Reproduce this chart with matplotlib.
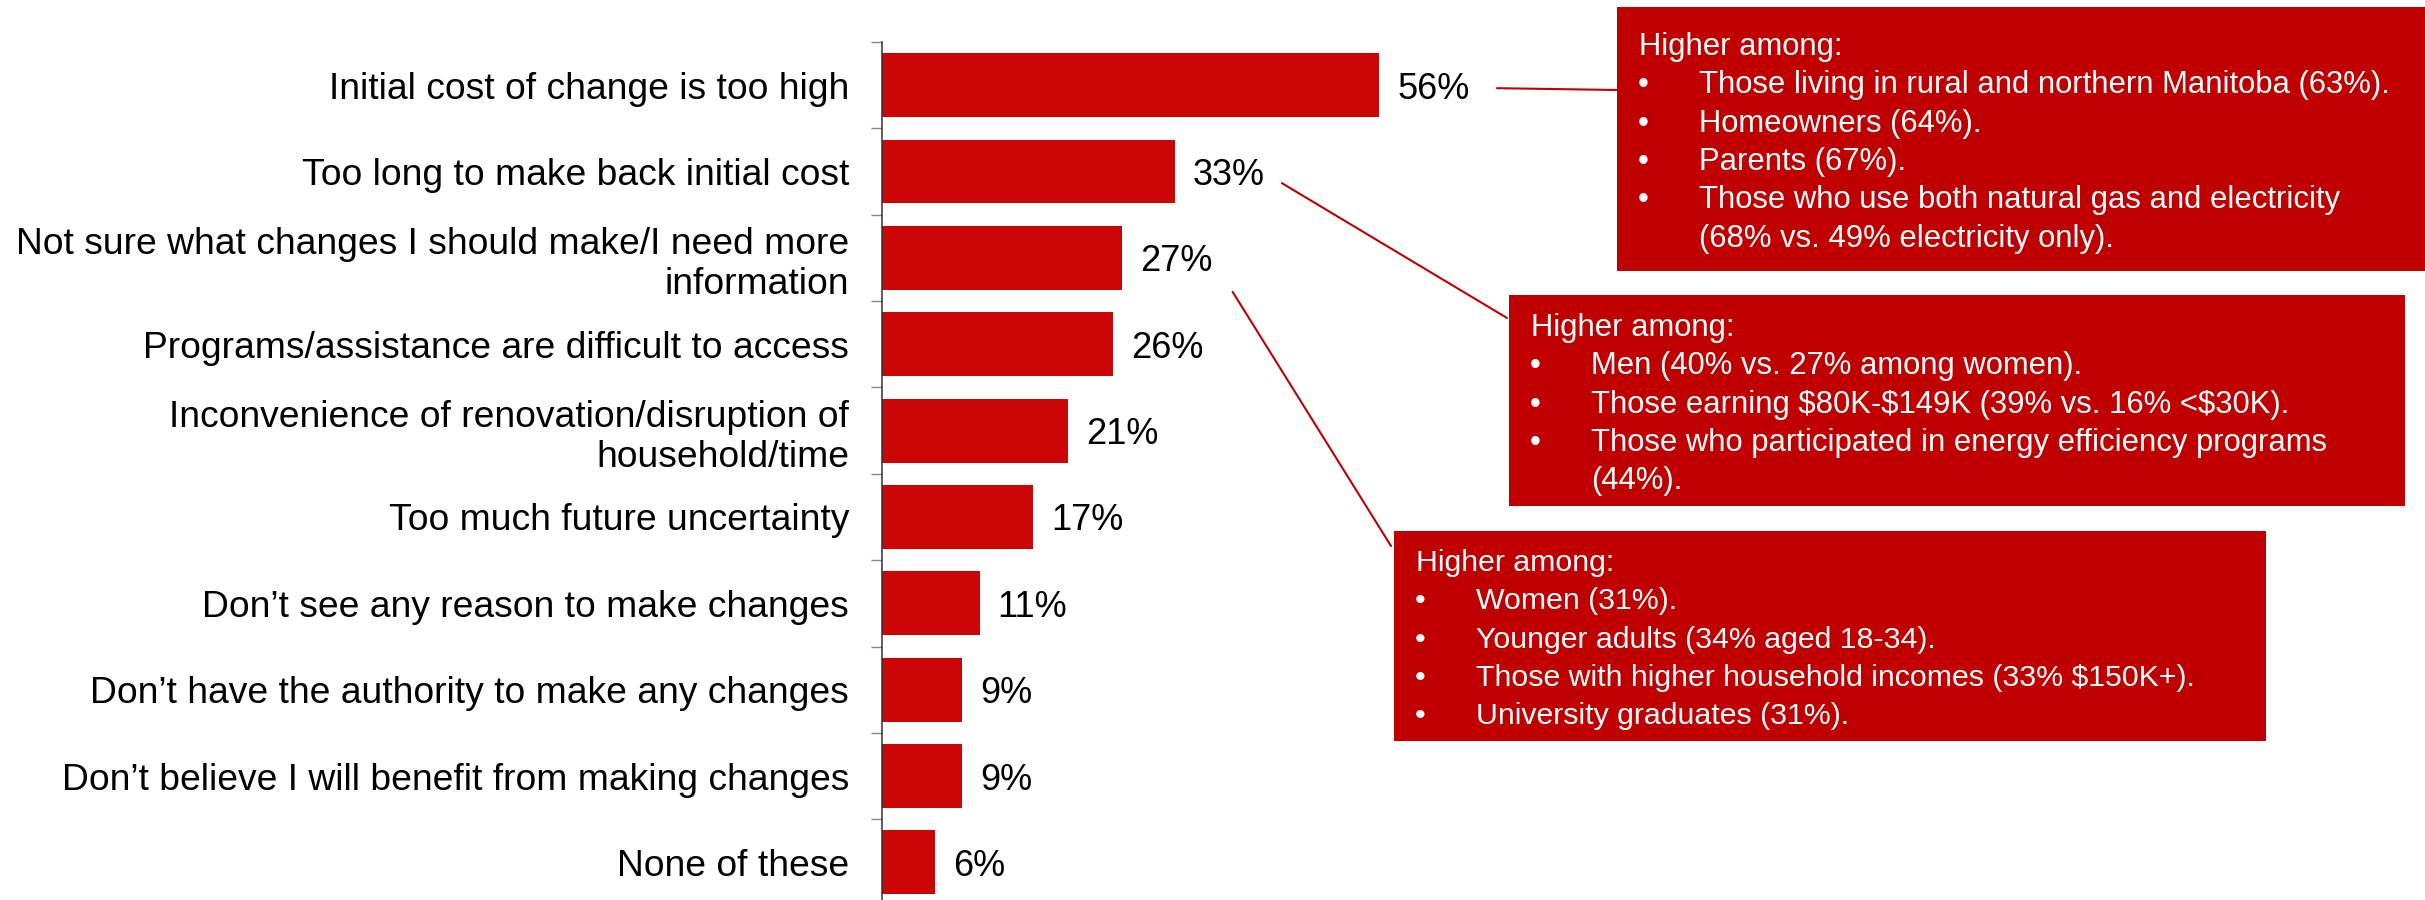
import matplotlib.pyplot as plt
from matplotlib.patches import Rectangle, ConnectionPatch
from matplotlib.transforms import offset_copy

plt.rcParams['font.family'] = ['Liberation Sans', 'DejaVu Sans']

categories = [
    "Initial cost of change is too high",
    "Too long to make back initial cost",
    "Not sure what changes I should make/I need more\ninformation",
    "Programs/assistance are difficult to access",
    "Inconvenience of renovation/disruption of\nhousehold/time",
    "Too much future uncertainty",
    "Don\u2019t see any reason to make changes",
    "Don\u2019t have the authority to make any changes",
    "Don\u2019t believe I will benefit from making changes",
    "None of these",
]
values = [56, 33, 27, 26, 21, 17, 11, 9, 9, 6]

header = "Higher among:"
cost_notes = [
    "Those living in rural and northern Manitoba (63%).",
    "Homeowners (64%).",
    "Parents (67%).",
    "Those who use both natural gas and electricity\n(68% vs. 49% electricity only).",
]
payback_notes = [
    "Men (40% vs. 27% among women).",
    "Those earning $80K-$149K (39% vs. 16% <$30K).",
    "Those who participated in energy efficiency programs\n(44%).",
]
unsure_notes = [
    "Women (31%).",
    "Younger adults (34% aged 18-34).",
    "Those with higher household incomes (33% $150K+).",
    "University graduates (31%).",
]

BAR = "#CC0606"
BOX = "#C00000"
W, H = 2425, 900

fig = plt.figure(figsize=(W / 100, H / 100), dpi=100)


def px(x, y):
    # pixel position (from top-left) -> figure fraction
    return x / W, 1 - y / H


ax = fig.add_axes([882 / W, 1 - 905.6 / H, 532.5 / W, 863.6 / H])
ypos = list(range(len(categories)))
bars = ax.barh(ypos, values, height=0.74, color=BAR)
ax.set_xlim(0, 60)
ax.set_ylim(9.5, -0.5)
for t in ax.bar_label(bars, labels=[f"{v}%" for v in values], padding=13,
                      fontsize=26):
    t.set_va('center_baseline')

ax.set_yticks(ypos)
ax.set_yticklabels(categories, fontsize=26.8, linespacing=1.2)
ax.tick_params(axis='y', which='major', length=0, pad=23.8)
ax.set_yticks([i - 0.5 for i in range(len(categories) + 1)], minor=True)
ax.tick_params(axis='y', which='minor', length=7.9, width=1, color='#888888')
ax.xaxis.set_visible(False)
for side in ['top', 'right', 'bottom']:
    ax.spines[side].set_visible(False)
ax.spines['left'].set_color('#333333')
ax.spines['left'].set_linewidth(1.1)

# callout boxes: (left, top, right, bottom, first baseline) in pixels, font size
callouts = [
    ((1617, 7, 2425, 271, 55), 22.3, cost_notes, 0, (118, -3), (1617, 90)),
    ((1509, 295, 2405, 506, 336), 22.3, payback_notes, 1, (107, -11.6), (1507, 318)),
    ((1394, 531, 2266, 741, 571), 21.8, unsure_notes, 2, (111, -34), (1391, 546)),
]
step = 38.3

for (l, t, r, b, base), fs, notes, idx, (dx, dy), end in callouts:
    x0, y0 = px(l, b)
    fig.add_artist(Rectangle((x0, y0), (r - l) / W, (b - t) / H,
                             transform=fig.transFigure, facecolor=BOX,
                             edgecolor='none'))
    y = base
    fig.text(*px(l + 22, y), header, color='white', fontsize=fs, va='baseline')
    for note in notes:
        for k, line in enumerate(note.split("\n")):
            y += step
            if k == 0:
                fig.text(*px(l + 21, y), "\u2022", color='white', fontsize=fs,
                         va='baseline')
            fig.text(*px(l + 82, y), line, color='white', fontsize=fs,
                     va='baseline')

    start = offset_copy(ax.transData, fig=fig, x=dx, y=dy, units='dots')
    fig.add_artist(ConnectionPatch(xyA=(values[idx], idx), coordsA=start,
                                   xyB=px(*end), coordsB=fig.transFigure,
                                   color=BOX, linewidth=1.5))

fig.savefig("out.png", dpi=100)
